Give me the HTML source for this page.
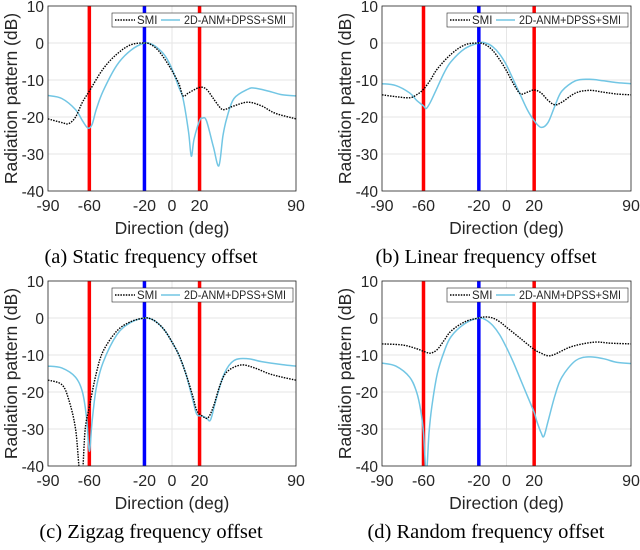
<!DOCTYPE html>
<html><head><meta charset="utf-8">
<style>
html,body{margin:0;padding:0;background:#fff;}
svg{display:block;}
text{font-family:"Liberation Sans",sans-serif;fill:#262626;}
.cap{font-family:"Liberation Serif",serif;font-size:20.5px;fill:#000;}
</style></head>
<body>
<svg id="fig" width="640" height="550" viewBox="0 0 640 550" xmlns="http://www.w3.org/2000/svg"></svg>
<script>
const xTicks=[-90,-60,-20,0,20,90];
const yTicks=[10,0,-10,-20,-30,-40];
const markerRed=[-60,20];
const markerBlue=[-20];
const captions=["(a) Static frequency offset","(b) Linear frequency offset","(c) Zigzag frequency offset","(d) Random frequency offset"];
const smiA=[[-90,-20.5],[-80,-21.5],[-75,-21.8],[-70,-20],[-65,-16],[-60,-13],[-50,-7],[-40,-3],[-30,-0.5],[-20,0],[-15,-0.5],[-10,-2],[-5,-4.5],[0,-7.5],[5,-11],[8,-14.3],[12,-13.5],[20,-12],[25,-12.5],[30,-15],[35,-17.5],[38,-18],[45,-17],[55,-16],[65,-17],[75,-19],[90,-20.5]];
const anmA=[[-90,-14.2],[-80,-15],[-70,-18],[-65,-21],[-61,-23],[-58,-22],[-55,-18],[-50,-13],[-40,-6],[-30,-2],[-20,0],[-15,-0.3],[-10,-1.5],[-5,-3.5],[0,-7],[5,-12],[8,-15],[12,-24],[14,-30.6],[16,-26],[20,-21],[22,-20.3],[25,-21],[30,-28],[34,-33.2],[37,-25],[40,-20],[45,-15],[55,-12.5],[60,-12.2],[70,-13],[80,-14],[90,-14.3]];
const smiB=[[-90,-14],[-80,-14.5],[-70,-14.8],[-65,-14],[-60,-12.5],[-55,-10],[-50,-7],[-40,-3],[-30,-0.5],[-20,0],[-15,-0.5],[-10,-2],[-5,-4.5],[0,-7.5],[5,-11],[10,-13.7],[15,-13.3],[20,-12.7],[25,-13.5],[30,-15.5],[35,-16.7],[40,-16],[50,-13.5],[60,-12.8],[70,-13.3],[80,-13.8],[90,-14]];
const anmB=[[-90,-11],[-80,-11.5],[-70,-13.5],[-65,-15.5],[-60,-17],[-58,-17.7],[-55,-16],[-50,-12],[-45,-8],[-40,-5],[-30,-1.5],[-20,0],[-15,0],[-10,-1],[-5,-3],[0,-6],[5,-10],[10,-14],[15,-18],[20,-21],[25,-22.8],[30,-21.5],[35,-17],[40,-13],[50,-10.2],[60,-9.8],[70,-10.2],[80,-10.7],[90,-11]];
const smiC=[[-90,-16.8],[-80,-18],[-75,-22],[-70,-30],[-67,-42],[-65,-42],[-63,-30],[-60,-24],[-55,-15],[-50,-9],[-40,-3.5],[-30,-1],[-20,0],[-15,-0.3],[-10,-1.5],[-5,-3.5],[0,-6.5],[5,-10],[10,-15],[15,-21],[18,-25],[22,-26.5],[26,-27],[30,-24],[35,-18],[40,-14.5],[50,-12.7],[60,-13.5],[70,-15],[80,-16],[90,-16.8]];
const anmC=[[-90,-13],[-80,-13.5],[-70,-16],[-65,-20],[-62,-27],[-60,-36],[-58,-28],[-55,-19],[-50,-12],[-40,-4.5],[-30,-1.2],[-20,0],[-15,-0.3],[-10,-1.5],[-5,-3.5],[0,-6.5],[5,-10],[10,-15],[15,-22],[18,-26],[22,-26.5],[25,-27],[28,-27.5],[32,-22],[38,-15],[45,-11.5],[55,-11],[65,-11.8],[80,-12.6],[90,-13]];
const smiD=[[-90,-7],[-75,-7.3],[-65,-8.3],[-60,-9],[-55,-9.5],[-50,-8.5],[-45,-6],[-40,-3.5],[-30,-1],[-20,0],[-15,0.3],[-10,0],[-5,-1],[0,-2.5],[10,-5.5],[20,-8.5],[25,-9.5],[30,-10.2],[35,-9.8],[45,-8],[55,-7],[65,-6.5],[75,-6.8],[90,-7]];
const anmD=[[-90,-12.2],[-80,-13],[-70,-16],[-65,-20],[-62,-25],[-60,-31],[-58,-42],[-56,-31],[-54,-24],[-50,-15],[-45,-9],[-40,-5],[-30,-1.5],[-20,0],[-15,-0.5],[-10,-2],[-5,-4.5],[0,-8],[5,-12],[10,-16.5],[15,-21],[20,-25.5],[22,-28],[25,-31],[27,-32],[30,-28],[35,-21],[40,-16],[50,-11.5],[60,-10.5],[70,-11],[80,-12],[90,-12.3]];
const seriesSMI=[smiA,smiB,smiC,smiD];
const seriesANM=[anmA,anmB,anmC,anmD];

const NS="http://www.w3.org/2000/svg";
const svg=document.getElementById('fig');
function mk(tag,attrs,parent){const e=document.createElementNS(NS,tag);for(const k in attrs)e.setAttribute(k,attrs[k]);(parent||svg).appendChild(e);return e;}
const panels=[{x0:48,x1:296,y0:6,y1:191,yt:17,cx:151},{x0:382,x1:631,y0:6,y1:191,yt:351,cx:486},{x0:48,x1:296,y0:281,y1:466,yt:17,cx:151},{x0:382,x1:631,y0:281,y1:466,yt:351,cx:486}];
function pathD(pts){let d=`M${pts[0][0].toFixed(2)},${pts[0][1].toFixed(2)}`;for(let i=0;i<pts.length-1;i++){const p0=pts[Math.max(0,i-1)],p1=pts[i],p2=pts[i+1],p3=pts[Math.min(pts.length-1,i+2)];const c1=[p1[0]+(p2[0]-p0[0])/6,p1[1]+(p2[1]-p0[1])/6],c2=[p2[0]-(p3[0]-p1[0])/6,p2[1]-(p3[1]-p1[1])/6];d+=` C${c1[0].toFixed(2)},${c1[1].toFixed(2)} ${c2[0].toFixed(2)},${c2[1].toFixed(2)} ${p2[0].toFixed(2)},${p2[1].toFixed(2)}`;}return d;}
panels.forEach((P,i)=>{
  const sx=v=>P.x0+(v+90)/180*(P.x1-P.x0);
  const sy=v=>P.y0+(10-v)/50*(P.y1-P.y0);
  const g=mk('g',{});
  
  
  const cid='clip'+i;
  const cp=mk('clipPath',{id:cid},g);mk('rect',{x:P.x0,y:P.y0,width:P.x1-P.x0,height:P.y1-P.y0},cp);
  mk('rect',{x:P.x0,y:P.y0,width:P.x1-P.x0,height:P.y1-P.y0,fill:'#fff'},g);
  xTicks.forEach(t=>{const l=mk('line',{x1:sx(t),x2:sx(t),y1:P.y0,y2:P.y1,stroke:'#e6e6e6','stroke-width':1},g);});
  yTicks.forEach(t=>{const l=mk('line',{x1:P.x0,x2:P.x1,y1:sy(t),y2:sy(t),stroke:'#e6e6e6','stroke-width':1},g);});
  const plot=mk('g',{'clip-path':`url(#${cid})`},g);
  markerRed.forEach(m=>{const l=mk('line',{x1:sx(m),x2:sx(m),y1:P.y0,y2:P.y1,stroke:'#ff0000','stroke-width':3.5},plot);});
  markerBlue.forEach(m=>{const l=mk('line',{x1:sx(m),x2:sx(m),y1:P.y0,y2:P.y1,stroke:'#0000ff','stroke-width':3.5},plot);});
  const a=mk('path',{d:pathD(seriesANM[i].map(p=>[sx(p[0]),sy(p[1])])),fill:'none',stroke:'#72c6e4','stroke-width':1.5},plot);
  
  const s=mk('path',{d:pathD(seriesSMI[i].map(p=>[sx(p[0]),sy(p[1])])),fill:'none',stroke:'#000','stroke-width':1.4,'stroke-dasharray':'1.5,1.2'},plot);
  
  mk('rect',{x:P.x0,y:P.y0,width:P.x1-P.x0,height:P.y1-P.y0,fill:'none',stroke:'#262626','stroke-width':0.8},g);
  xTicks.forEach(t=>{const tx=mk('text',{x:sx(t),y:P.y1+20,'font-size':16,'text-anchor':'middle'},g);tx.textContent=t;});
  yTicks.forEach(t=>{const tx=mk('text',{x:P.x0-4,y:sy(t)+6,'font-size':15.5,'text-anchor':'end'},g);tx.textContent=t;});
  const xl=mk('text',{x:(P.x0+P.x1)/2,y:P.y1+43,'font-size':17.5,'text-anchor':'middle'},g);xl.textContent='Direction (deg)';
  
  const yx=P.yt, yc=(P.y0+P.y1)/2;
  const yl=mk('text',{x:yx,y:yc,'font-size':17.5,'text-anchor':'middle',transform:`rotate(-90 ${yx} ${yc})`},g);yl.textContent='Radiation pattern (dB)';
  
  const lx=P.x1-184, ly=P.y0+7;
  const lg=mk('g',{},g);
  mk('rect',{x:lx,y:ly,width:181,height:14,fill:'#fff',stroke:'#262626','stroke-width':0.6},lg);
  mk('line',{x1:lx+3,x2:lx+23,y1:ly+7,y2:ly+7,stroke:'#000','stroke-width':1.4,'stroke-dasharray':'1.5,1.2'},lg);
  const t1=mk('text',{x:lx+25,y:ly+11,'font-size':11.5},lg);t1.textContent='SMI';
  
  mk('line',{x1:lx+49,x2:lx+68,y1:ly+7,y2:ly+7,stroke:'#72c6e4','stroke-width':1.5},lg);
  const t2=mk('text',{x:lx+72,y:ly+11,'font-size':11.5,textLength:102,lengthAdjust:'spacingAndGlyphs'},lg);t2.textContent='2D-ANM+DPSS+SMI';
  
  const c=mk('text',{x:P.cx,y:P.y1+72,'text-anchor':'middle',class:'cap'},g);c.textContent=captions[i];
  
});
</script>
</body></html>
